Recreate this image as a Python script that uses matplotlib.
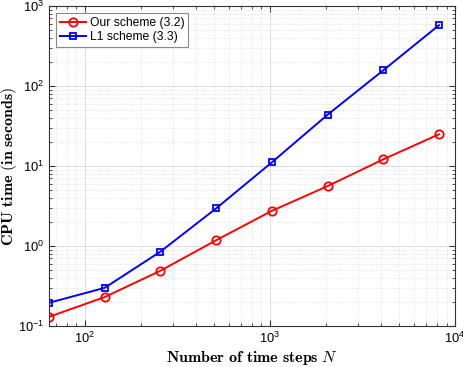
import numpy as np
import matplotlib
matplotlib.use('Agg')
import matplotlib.pyplot as plt

N = [64, 128, 256, 512, 1024, 2048, 4096, 8192]
ours = [0.13, 0.23, 0.49, 1.18, 2.75, 5.6, 12.1, 24.9]
l1 = [0.195, 0.30, 0.85, 2.95, 11.1, 43.7, 157, 575]

plt.rcParams['font.family'] = ['Liberation Sans', 'DejaVu Sans']
plt.rcParams['mathtext.fontset'] = 'cm'

fig = plt.figure(figsize=(4.64, 3.67), dpi=100)
ax = fig.add_axes([0.1056, 0.1117, 0.875, 0.872])

ax.loglog(N, ours, '-o', color='#ff0000', lw=1.4, ms=6, mfc='none', mew=1.3,
          label='Our scheme (3.2)')
ax.loglog(N, l1, '-s', color='#0000ff', lw=1.4, ms=5, mfc='none', mew=1.3,
          label='L1 scheme (3.3)')

ax.set_xlim(64, 1e4)
ax.set_ylim(1e-1, 1e3)
ax.grid(True, which='major', color='#dcdcdc', lw=0.7)
ax.grid(True, which='minor', color='#dcdcdc', lw=0.6, ls=':')
ax.tick_params(which='both', direction='in', top=True, right=True, labelsize=9.3,
               color='#333333')
ax.tick_params(which='major', length=4)
ax.tick_params(which='minor', length=2)
for s in ax.spines.values():
    s.set_color('#333333')
    s.set_linewidth(0.8)

ax.set_xlabel(r'$\mathbf{Number\ of\ time\ steps}\ N$', fontsize=11.5, va='center')
ax.set_ylabel(r'$\mathbf{CPU\ time\ (in\ seconds)}$', fontsize=11.5, va='center')
ax.xaxis.set_label_coords(0.5, -0.1)
ax.yaxis.set_label_coords(-0.098, 0.5)

leg = ax.legend(loc='upper left', fontsize=8.7, fancybox=False, edgecolor='#888888',
                framealpha=1, borderpad=0.3, labelspacing=0.2, handlelength=2.2,
                handletextpad=0.3, borderaxespad=0.6)
leg.get_frame().set_linewidth(0.8)

fig.savefig('out.png', dpi=100)
